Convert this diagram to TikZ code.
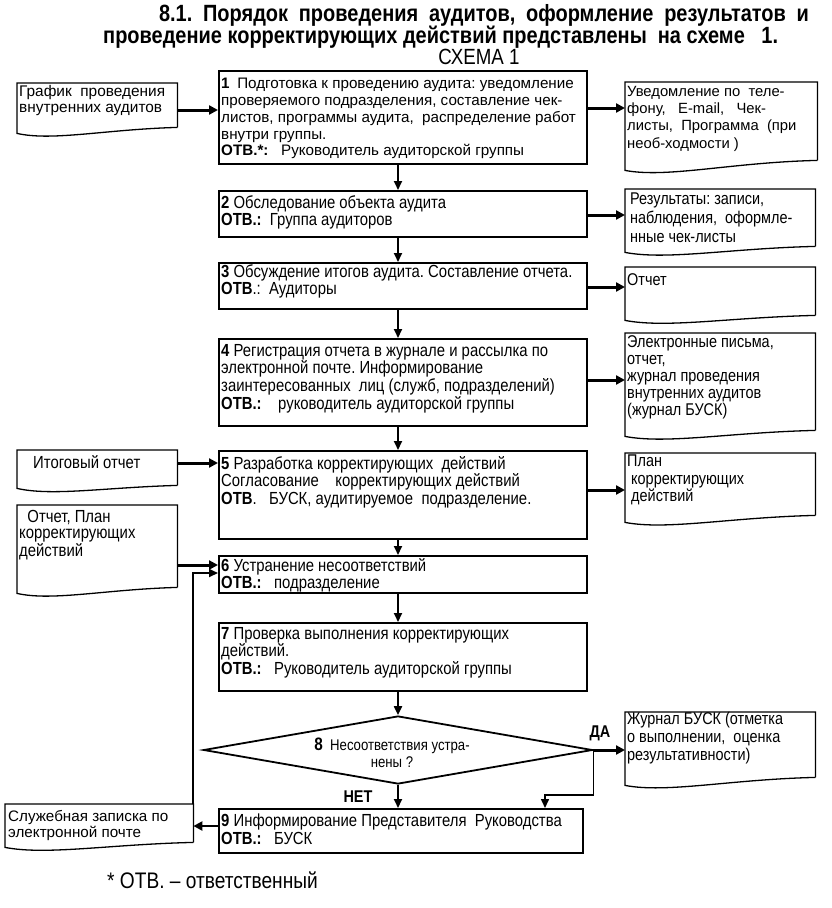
\documentclass[tikz,border=0pt]{standalone}
\usepackage{fontspec}
\setmainfont{Liberation Sans}
\newfontfamily\nar[FakeStretch=0.85]{Liberation Sans}
\usetikzlibrary{arrows.meta,shapes.geometric,calc}
\newcommand{\mydoc}[2]{%
  \draw[docline] (#1.south east) -- (#1.north east) -- (#1.north west) -- ([yshift=-#2pt]#1.south west)
   .. controls ($(#1.south west)!0.22!(#1.south east)+(0,#2+8)$) and ($(#1.south west)!0.55!(#1.south east)+(0,2)$) .. (#1.south east);}
\frenchspacing
\begin{document}
\begin{tikzpicture}[x=1pt,y=-1pt,
  box/.style={draw, line width=1.8pt, inner sep=0pt, anchor=north west},
  docn/.style={inner sep=0pt, anchor=north west},
  docline/.style={line width=1.3pt, line join=miter},
  rtxt/.style={anchor=north west, align=left, inner sep=0pt, font=\fontsize{15.2}{16.8}\selectfont},
  ntxt/.style={anchor=north west, align=left, inner sep=0pt, font=\nar\fontsize{17.5}{17.7}\selectfont},
  varr/.style={-{Triangle[length=9pt,width=8pt]}, line width=2pt},
  harr/.style={-{Triangle[length=9pt,width=9pt]}, line width=3pt},
  lbl/.style={inner sep=0pt, font=\nar\bfseries\fontsize{17}{17}\selectfont}
]
\useasboundingbox (0,0) rectangle (831,908);

% title
\node[inner sep=0pt, font=\nar\bfseries\fontsize{23.5}{26}\selectfont] (title1) at (484,15)
  {\makebox[650pt][s]{8.1. Порядок проведения аудитов, оформление результатов и}};
\node[inner sep=0pt, anchor=west, font=\nar\bfseries\fontsize{23.5}{26}\selectfont] (title2) at (103,37)
  {проведение корректирующих действий представлены\ \ на схеме\ \ \ 1.};
\node[inner sep=0pt, font=\nar\fontsize{22}{24}\selectfont] (schema) at (479,57) {СХЕМА 1};

% level coordinates
\coordinate (cx) at (398,0);
\coordinate (h1a) at (0,110);
\coordinate (h1b) at (0,108);
\coordinate (h2) at (0,215);
\coordinate (h3) at (0,287);
\coordinate (h4) at (0,380);
\coordinate (h5a) at (0,463);
\coordinate (h5b) at (0,490);
\coordinate (h6a) at (0,565);
\coordinate (h6b) at (0,573);
\coordinate (h9) at (0,826);
\coordinate (j9) at (545,795);

% main boxes
\node[box, minimum width=368, minimum height=93] (b1) at (218,70) {};
\node[box, minimum width=368, minimum height=46] (b2) at (218,190) {};
\node[box, minimum width=368, minimum height=46] (b3) at (218,262) {};
\node[box, minimum width=368, minimum height=87] (b4) at (218,338) {};
\node[box, minimum width=368, minimum height=88] (b5) at (218,450) {};
\node[box, minimum width=368, minimum height=37] (b6) at (218,555) {};
\node[box, minimum width=368, minimum height=68] (b7) at (218,622) {};
\node[draw, diamond, line width=1.8pt, minimum width=389, minimum height=68, inner sep=0pt] (d8) at (398,750) {};
\node[box, minimum width=364, minimum height=44] (b9) at (218,808) {};

% box texts
\node[rtxt] (t1) at (221,78) {\textbf{1}\enspace Подготовка к проведению аудита: уведомление\\
проверяемого подразделения, составление чек-\\
листов, программы аудита,\ \ распределение работ\\
внутри группы.\\
\textbf{ОТВ.*:}\ \ \ Руководитель аудиторской группы};
\node[ntxt] (t2) at (221,195) {\textbf{2} Обследование объекта аудита\\ \textbf{ОТВ.:}\ \ Группа аудиторов};
\node[ntxt] (t3) at (221,264) {\textbf{3} Обсуждение итогов аудита. Составление отчета.\\ \textbf{ОТВ}.:\ \ Аудиторы};
\node[ntxt] (t4) at (221,344) {\textbf{4} Регистрация отчета в журнале и рассылка по\\
электронной почте. Информирование\\
заинтересованных\ \ лиц (служб, подразделений)\\
\textbf{ОТВ.:}\ \ \ \ руководитель аудиторской группы};
\node[ntxt] (t5) at (221,456) {\textbf{5} Разработка корректирующих\ \ действий\\
Согласование\ \ \ \ корректирующих действий\\
\textbf{ОТВ}.\ \ \ БУСК, аудитируемое\ \ подразделение.};
\node[ntxt] (t6) at (221,558) {\textbf{6}\ Устранение несоответствий\\ \textbf{ОТВ.:}\ \ \ подразделение};
\node[ntxt] (t7) at (221,627) {\textbf{7} Проверка выполнения корректирующих\\ действий.\\ \textbf{ОТВ.:}\ \ \ Руководитель аудиторской группы};
\node[inner sep=0pt, align=center, font=\nar\fontsize{15.5}{17}\selectfont] (t8) at (392,753)
  {{\bfseries\fontsize{18}{17}\selectfont 8}\ \ Несоответствия устра-\\ нены ?};
\node[ntxt] (t9) at (221,814) {\textbf{9} Информирование Представителя\ \ Руководства\\ \textbf{ОТВ.:}\ \ \ БУСК};

% documents
\node[docn, minimum width=160, minimum height=44] (dL1) at (17,83) {};
\node[docn, minimum width=192, minimum height=78] (dR1) at (625,82) {};
\node[docn, minimum width=190, minimum height=57] (dR2) at (625,189) {};
\node[docn, minimum width=190, minimum height=48] (dR3) at (625,267) {};
\node[docn, minimum width=190, minimum height=97] (dR4) at (625,333) {};
\node[docn, minimum width=160, minimum height=35] (dL5) at (17,450) {};
\node[docn, minimum width=190, minimum height=62] (dR5) at (625,453) {};
\node[docn, minimum width=160, minimum height=82] (dL6) at (17,505) {};
\node[docn, minimum width=190, minimum height=65] (dR8) at (625,712) {};
\node[docn, minimum width=188, minimum height=38] (dL9) at (5,804) {};
\mydoc{dL1}{6}
\mydoc{dR1}{10}
\mydoc{dR2}{6}
\mydoc{dR3}{5}
\mydoc{dR4}{6}
\mydoc{dL5}{3}
\mydoc{dR5}{7}
\mydoc{dL6}{6}
\mydoc{dR8}{8}
\mydoc{dL9}{5}

% document texts
\node[rtxt, font=\fontsize{15.4}{16.5}\selectfont] (tL1) at (19,85) {График\ \ проведения\\ внутренних аудитов};
\node[ntxt] (tL5) at (33,455) {Итоговый отчет};
\node[ntxt, font=\nar\fontsize{17.5}{16.5}\selectfont] (tL6) at (19,510) {\ \ Отчет, План\\ корректирующих\\ действий};
\node[rtxt, font=\fontsize{15.2}{16.5}\selectfont] (tL9) at (8,810) {Служебная записка по\\ электронной почте};
\node[rtxt, font=\fontsize{14.8}{17.3}\selectfont] (tR1) at (627,86) {Уведомление по\ \ теле-\\ фону,\ \ \ E-mail,\ \ \ Чек-\\ листы,\ \ Программа\ \ (при\\ необ-ходмости )};
\node[ntxt, font=\nar\fontsize{17}{19}\selectfont] (tR2) at (630,193) {Результаты: записи,\\ наблюдения,\ \ оформле-\\ нные чек-листы};
\node[ntxt, font=\nar\fontsize{17}{17}\selectfont] (tR3) at (627,273) {Отчет};
\node[ntxt, font=\nar\fontsize{17}{17}\selectfont] (tR4) at (627,335) {Электронные письма,\\ отчет,\\ журнал проведения\\ внутренних аудитов\\ (журнал БУСК)};
\node[ntxt, font=\nar\fontsize{17}{17.5}\selectfont] (tR5) at (627,455) {План\\ \ корректирующих\\ \ действий};
\node[ntxt, font=\nar\fontsize{17}{18}\selectfont] (tR8) at (627,712) {Журнал БУСК (отметка\\ о выполнении,\ \ оценка\\ результативности)};

% vertical flow arrows
\draw[varr] (b1.south -| cx) -- (b2.north -| cx);
\draw[varr] (b2.south -| cx) -- (b3.north -| cx);
\draw[varr] (b3.south -| cx) -- (b4.north -| cx);
\draw[varr] (b4.south -| cx) -- (b5.north -| cx);
\draw[varr] (b5.south -| cx) -- (b6.north -| cx);
\draw[varr] (b6.south -| cx) -- (b7.north -| cx);
\draw[varr] (b7.south -| cx) -- (d8.north);
\draw[varr] (d8.south) -- (b9.north -| d8.south);

% horizontal arrows
\draw[harr] (dL1.east |- h1a) -- (b1.west |- h1a);
\draw[harr] (b1.east |- h1b) -- (dR1.west |- h1b);
\draw[harr] (b2.east |- h2) -- (dR2.west |- h2);
\draw[harr] (b3.east |- h3) -- (dR3.west |- h3);
\draw[harr] (b4.east |- h4) -- (dR4.west |- h4);
\draw[harr] (dL5.east |- h5a) -- (b5.west |- h5a);
\draw[harr] (b5.east |- h5b) -- (dR5.west |- h5b);
\draw[harr] (dL6.east |- h6a) -- (b6.west |- h6a);
\draw[varr] (dL9.north east) -- (dL9.north east |- h6b) -- (b6.west |- h6b);
\draw[harr] (d8.east) -- (dR8.west |- d8.east);
\draw[varr, line width=1.5pt] (d8.east) |- (j9) -- (j9 |- b9.north);
\draw[harr, line width=2.5pt] (b9.west |- h9) -- (dL9.east |- h9);

% labels
\node[lbl] (yes) at (600,733) {ДА};
\node[lbl] (no) at (358,797) {НЕТ};
\node[inner sep=0pt, anchor=west, font=\nar\fontsize{22.5}{24}\selectfont] (foot) at (107,880) {* ОТВ. – ответственный};
\end{tikzpicture}
\end{document}
